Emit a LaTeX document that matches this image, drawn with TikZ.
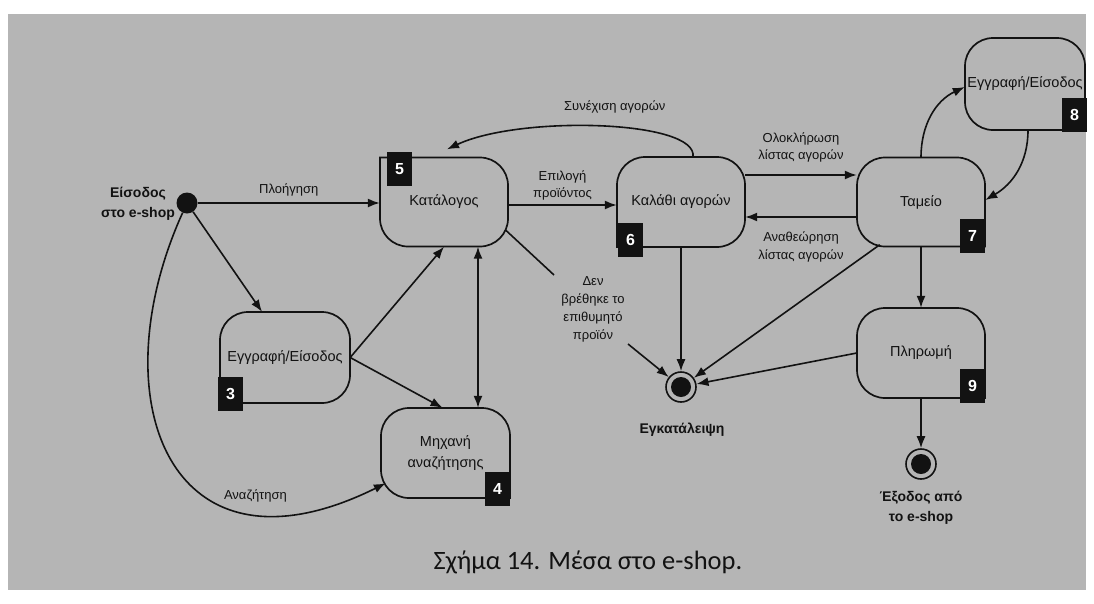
\documentclass[tikz,border=0pt]{standalone}
\usepackage{fontspec}
\setmainfont{Liberation Sans}
\newfontfamily\capfont{Carlito}
\usetikzlibrary{arrows.meta,calc}
\definecolor{bg}{RGB}{181,181,181}
\definecolor{ink}{RGB}{18,18,18}
\tikzset{
  boxline/.style={draw=ink, line width=1.7pt},
  line/.style={draw=ink, line width=1.6pt},
  arr/.style={line, -{Latex[length=12pt,width=9pt]}},
  arrtwo/.style={line, {Latex[length=12pt,width=9pt]}-{Latex[length=12pt,width=9pt]}},
  stnode/.style={rectangle, inner sep=0pt, text=ink, font=\fontsize{14.5}{21}\selectfont, align=center},
  badge/.style={rectangle, fill=ink, text=white, inner sep=0pt, minimum width=25pt, minimum height=34pt, font=\bfseries\fontsize{16}{16}\selectfont},
  lbl/.style={text=ink, inner sep=1pt, font=\fontsize{13}{17.5}\selectfont, align=center},
  blbl/.style={text=ink, inner sep=1pt, font=\bfseries\fontsize{14}{20}\selectfont, align=center},
  endstate/.style={circle, draw=ink, line width=1.6pt, minimum size=30pt, inner sep=0pt,
     path picture={\fill[ink] (path picture bounding box.center) circle (10pt);}},
  startstate/.style={circle, fill=ink, minimum size=21pt, inner sep=0pt}
}
% outline of a state: x0,y0,x1,y1, radius NW, NE, SE, SW
\newcommand\stoutline[8]{%
  \draw[boxline] (#1+#5,#2) -- (#3-#6,#2)
    .. controls (#3-0.448*#6,#2) and (#3,#2+0.448*#6) .. (#3,#2+#6)
    -- (#3,#4-#7)
    .. controls (#3,#4-0.448*#7) and (#3-0.448*#7,#4) .. (#3-#7,#4)
    -- (#1+#8,#4)
    .. controls (#1+0.448*#8,#4) and (#1,#4-0.448*#8) .. (#1,#4-#8)
    -- (#1,#2+#5)
    .. controls (#1,#2+0.448*#5) and (#1+0.448*#5,#2) .. (#1+#5,#2) -- cycle;}
\begin{document}
\begin{tikzpicture}[x=1pt,y=-1pt]
\useasboundingbox (0,0) rectangle (1094,603);
\fill[white] (0,0) rectangle (1094,603);
\fill[bg] (8,14) rectangle (1086,590);

% state nodes
\node[stnode, minimum width=128pt, minimum height=89pt] (n5) at (444,202) {Κατάλογος};
\node[stnode, minimum width=130pt, minimum height=91pt] (n3) at (285,357.5) {Εγγραφή/Είσοδος};
\node[stnode, minimum width=129pt, minimum height=90pt] (n4) at (445.5,453) {Μηχανή\\αναζήτησης};
\node[stnode, minimum width=128pt, minimum height=90pt] (n6) at (681,202) {Καλάθι αγορών};
\node[stnode, minimum width=128pt, minimum height=89pt] (n7) at (921,202) {Ταμείο};
\node[stnode, minimum width=120pt, minimum height=92pt] (n8) at (1025,84) {Εγγραφή/Είσοδος};
\node[stnode, minimum width=128pt, minimum height=90pt] (n9) at (921,353) {Πληρωμή};

\stoutline{380}{157.5}{508}{246.5}{0}{28}{28}{28}
\stoutline{220}{312}{350}{403}{28}{28}{28}{0}
\stoutline{381}{408}{510}{498}{28}{28}{0}{28}
\stoutline{617}{157}{745}{247}{28}{28}{28}{0}
\stoutline{857}{157.5}{985}{246.5}{28}{28}{0}{28}
\stoutline{965}{38}{1085}{130}{28}{28}{0}{28}
\stoutline{857}{308}{985}{398}{28}{28}{0}{28}

% badges
\node[badge] (b5) at (399.5,169) {5};
\node[badge] (b3) at (230.5,394) {3};
\node[badge] (b4) at (497.5,488.5) {4};
\node[badge] (b6) at (630.5,240) {6};
\node[badge] (b7) at (972.5,235.5) {7};
\node[badge] (b8) at (1074.5,114.5) {8};
\node[badge] (b9) at (972.5,385.5) {9};

% start and end states
\node[startstate] (start) at (187,203) {};
\node[blbl] (startlbl) at (138,204) {Είσοδος\\στο e-shop};
\node[endstate] (end1) at (681,387) {};
\node[blbl] (end1lbl) at (682,430) {Εγκατάλειψη};
\node[endstate] (end2) at (921,464) {};
\node[blbl] (end2lbl) at (921,508) {Έξοδος από\\το e-shop};

% connectors
\draw[arr] (start) -- (start -| n5.west) node[lbl, midway, above=5pt] {Πλοήγηση};
\draw[arr] (start) -- ([xshift=-23pt]n3.north);
\draw[arr] (start) .. controls (98,400) and (170,590) .. ([shift={(5,-15)}]n4.south west)
   node[lbl, pos=0.76, above=9pt] {Αναζήτηση};
\draw[arr] (n3.east) -- (n5.south);
\draw[arr] (n3.east) -- ([xshift=-3pt]n4.north);
\draw[arrtwo] ([xshift=34pt]n5.south) -- ([xshift=32.5pt]n4.north);
\draw[arr] ([yshift=-3pt]n5.east) -- ([yshift=-3pt]n6.west)
   node[lbl, midway, above=3pt] {Επιλογή\\προϊόντος};
\draw[arr] ([xshift=12pt]n6.north) .. controls (698,120) and (520,115) .. ([shift={(3,-8)}]n5.north)
   node[lbl, pos=0.45, above=12pt] {Συνέχιση αγορών};

\node[lbl, font=\fontsize{13}{18}\selectfont] (nf) at (593,309) {Δεν\\βρέθηκε το\\επιθυμητό\\προϊόν};
\coordinate (nfa) at (554,275);
\coordinate (nfb) at (628,344);
\draw[line] ([shift={(-3,-17)}]n5.south east) -- (nfa);
\draw[arr] (nfb) -- (end1);

\draw[arr] (n6.south -| end1) -- (end1);
\draw[arr] ([yshift=27pt]n6.east) -- ([yshift=27pt]n7.west)
   node[lbl, midway, above=11pt] {Ολοκλήρωση\\λίστας αγορών};
\draw[arr] ([yshift=-15pt]n7.west) -- ([yshift=-15pt]n6.east)
   node[lbl, midway, below=13pt] {Αναθεώρηση\\λίστας αγορών};
\draw[arr] ([shift={(23,-2)}]n7.south west) -- (end1);
\draw[arr] (n7.north) to[out=90,in=205] ([yshift=-3pt]n8.west);
\draw[arr] ([xshift=3pt]n8.south) to[out=-90,in=30] ([yshift=2pt]n7.east);
\draw[arr] (n7.south) -- (n9.north);
\draw[arr] (n9.west) -- (end1);
\draw[arr] (n9.south) -- (end2);

% caption
\node[anchor=base, text=ink, font=\capfont\fontsize{26.5}{26.5}\selectfont, inner sep=0pt] (cap) at (588,569) {Σχήμα 14. Μέσα στο e-shop.};
\end{tikzpicture}
\end{document}
